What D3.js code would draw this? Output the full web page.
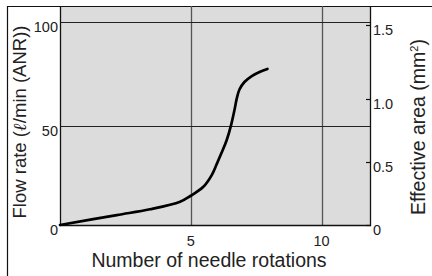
<!DOCTYPE html>
<html>
<head>
<meta charset="utf-8">
<script src="https://cdn.jsdelivr.net/npm/d3@7"></script>
<style>
  body { margin: 0; background: #fff; }
  text { font-family: "Liberation Sans", Arial, sans-serif; fill: #222; }
</style>
</head>
<body>
<svg id="chart" width="432" height="276"></svg>
<script>
// data
var rotations = [0, 2.17, 3.44, 4.59, 5.0, 5.48, 5.8, 5.99, 6.18, 6.37, 6.54, 6.67, 6.76, 6.86, 7.05, 7.33, 7.65, 7.93]
var flow      = [0, 5.0, 7.9, 11.7, 14.7, 19.2, 25.1, 30.6, 36.4, 42.6, 50.2, 57.5, 63.2, 67.4, 71.0, 73.9, 76, 77.3]
var xTicks = [0, 5, 10]
var flowTicks = [0, 50, 100]
var areaTicks = [0, 0.5, 1.0, 1.5]
var areaLabels = ['0', '0.5', '1.0', '1.5']

var svg = d3.select('#chart')

var mLeft = 60, mRight = 370, mTop = 6, mBottom = 225

var x = d3.scaleLinear().domain([0, 11.85]).range([mLeft, mRight])
// the printed axes aren't quite even, so piecewise
var y = d3.scaleLinear().domain([0, 50, 100]).range([mBottom, 125.5, 22])
var y2 = d3.scaleLinear().domain([0, 0.5, 1.0, 1.5]).range([mBottom, 162, 98.5, 25])

svg.append('rect')
  .attr('x', mLeft).attr('y', mTop)
  .attr('width', mRight - mLeft).attr('height', mBottom - mTop)
  .attr('fill', '#dcdcdc')

// outer frame
svg.append('path')
  .attr('d', 'M7.5,276V6.5H432')
  .attr('fill', 'none').attr('stroke', '#111').attr('stroke-width', 1.2)

// grid
svg.selectAll('.vgrid').data([5, 10]).enter().append('line')
  .attr('x1', function (d) { return Math.round(x(d)) + .5 })
  .attr('x2', function (d) { return Math.round(x(d)) + .5 })
  .attr('y1', mTop).attr('y2', mBottom)
  .attr('stroke', '#555').attr('stroke-width', 1.3)

svg.selectAll('.hgrid').data([50, 100]).enter().append('line')
  .attr('y1', function (d) { return Math.round(y(d)) + .5 })
  .attr('y2', function (d) { return Math.round(y(d)) + .5 })
  .attr('x1', mLeft).attr('x2', mRight)
  .attr('stroke', '#222').attr('stroke-width', 1.2)

// plot box
svg.append('path')
  .attr('d', 'M' + (mLeft + .5) + ',' + mTop + 'V' + (mBottom + .5) + 'H' + (mRight + .5) + 'V' + mTop)
  .attr('fill', 'none').attr('stroke', '#111').attr('stroke-width', 1.3)

// right ticks
svg.selectAll('.rtick').data(areaTicks).enter().append('line')
  .attr('x1', mRight - 4).attr('x2', mRight + 1)
  .attr('y1', function (d) { return Math.round(y2(d)) + .5 })
  .attr('y2', function (d) { return Math.round(y2(d)) + .5 })
  .attr('stroke', '#111').attr('stroke-width', 1.2)

// curve
var pts = d3.zip(rotations, flow)
svg.append('path')
  .datum(pts)
  .attr('fill', 'none').attr('stroke', '#000').attr('stroke-width', 2.7)
  .attr('stroke-linecap', 'round')
  .attr('d', d3.line()
    .x(function (d) { return x(d[0]) })
    .y(function (d) { return y(d[1]) })
    .curve(d3.curveCatmullRom.alpha(0.5)))

// labels
svg.selectAll('.ylab').data(flowTicks).enter().append('text')
  .attr('x', mLeft - 2).attr('y', function (d) { return y(d) + 10 })
  .attr('text-anchor', 'end').attr('font-size', 14.5)
  .text(function (d) { return d })

svg.selectAll('.y2lab').data(areaTicks).enter().append('text')
  .attr('x', mRight + 3).attr('y', function (d) { return y2(d) + 10 })
  .attr('font-size', 14.5)
  .text(function (d, i) { return areaLabels[i] })

svg.selectAll('.xlab').data(xTicks.slice(1)).enter().append('text')
  .attr('x', function (d) { return x(d) }).attr('y', 246)
  .attr('text-anchor', 'middle').attr('font-size', 14.5)
  .text(function (d) { return d })

svg.append('text')
  .attr('x', 209).attr('y', 267)
  .attr('text-anchor', 'middle').attr('font-size', 19.5)
  .text('Number of needle rotations')

var yt = svg.append('text')
  .attr('transform', 'translate(26,122) rotate(-90)')
  .attr('text-anchor', 'middle').attr('font-size', 18.5)
yt.append('tspan').text('Flow rate (')
yt.append('tspan').attr('font-style', 'italic').attr('font-weight', 'bold').attr('font-family', 'DejaVu Serif').text('ℓ')
yt.append('tspan').text('/min (ANR))')

var rt = svg.append('text')
  .attr('transform', 'translate(425,127) rotate(-90)')
  .attr('text-anchor', 'middle').attr('font-size', 19.5)
rt.append('tspan').text('Effective area (mm')
rt.append('tspan').attr('font-size', 11).attr('dy', -7).text('2')
rt.append('tspan').attr('dy', 7).text(')')
</script>
</body>
</html>
